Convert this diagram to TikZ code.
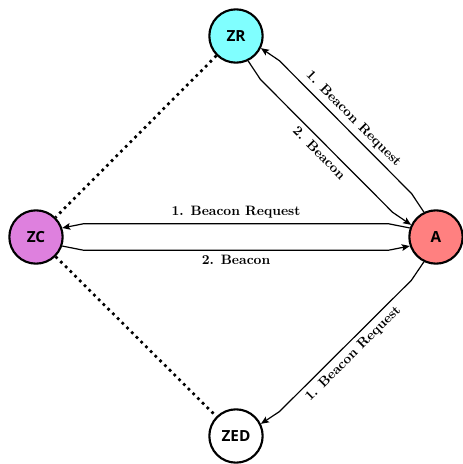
\documentclass[tikz,border=0pt]{standalone}
\usepackage{fontspec}
\newfontfamily\nodefont{Open Sans}
\usetikzlibrary{calc,arrows.meta}
\definecolor{zrcol}{RGB}{128,255,255}
\definecolor{zccol}{RGB}{222,128,222}
\definecolor{acol}{RGB}{255,128,128}
\begin{document}
\begin{tikzpicture}[x=0.75pt,y=0.75pt,
  dev/.style={circle,draw,line width=1.6pt,minimum size=40pt,inner sep=0pt,
    font=\nodefont\bfseries\fontsize{11.5}{13}\selectfont},
  msg/.style={line width=0.9pt,-{Stealth[length=6pt,width=5pt,inset=1.2pt]}},
  lbl/.style={font=\bfseries\fontsize{10.2}{12}\selectfont,inner sep=3.5pt,sloped},
  link/.style={line width=2pt,dash pattern=on 2pt off 3pt}]
\useasboundingbox (0,0) rectangle (463,464);
\node[dev,fill=zrcol] (ZR) at (236,428) {ZR};
\node[dev,fill=zccol] (ZC) at (36,227) {ZC};
\node[dev,fill=acol] (A) at (436,227) {A};
\node[dev,fill=white] (ZED) at (236,28) {ZED};

\draw[link] (ZR) -- (ZC);
\draw[link] (ZC) -- (ZED);

% A -> ZC
\draw[msg] (A.161) -- ($(A)!36pt!(ZC)!10pt!-90:(ZC)$)
  -- node[lbl,above]{1. Beacon Request} ($(ZC)!36pt!(A)!10pt!90:(A)$) -- (ZC.19);
% ZC -> A
\draw[msg] (ZC.-19) -- ($(ZC)!36pt!(A)!10pt!-90:(A)$)
  -- node[lbl,below]{2. Beacon} ($(A)!36pt!(ZC)!10pt!90:(ZC)$) -- (A.199);
% A -> ZR
\draw[msg] (A.116) -- ($(A)!36pt!(ZR)!10pt!-90:(ZR)$)
  -- node[lbl,above]{1. Beacon Request} ($(ZR)!36pt!(A)!10pt!90:(A)$) -- (ZR.-26);
% ZR -> A
\draw[msg] (ZR.-64) -- ($(ZR)!36pt!(A)!10pt!-90:(A)$)
  -- node[lbl,below]{2. Beacon} ($(A)!36pt!(ZR)!10pt!90:(ZR)$) -- (A.154);
% A -> ZED
\draw[msg] (A.244) -- ($(A)!36pt!(ZED)!10pt!90:(ZED)$)
  -- node[lbl,below]{1. Beacon Request} ($(ZED)!36pt!(A)!10pt!-90:(A)$) -- (ZED.26);
\end{tikzpicture}
\end{document}
